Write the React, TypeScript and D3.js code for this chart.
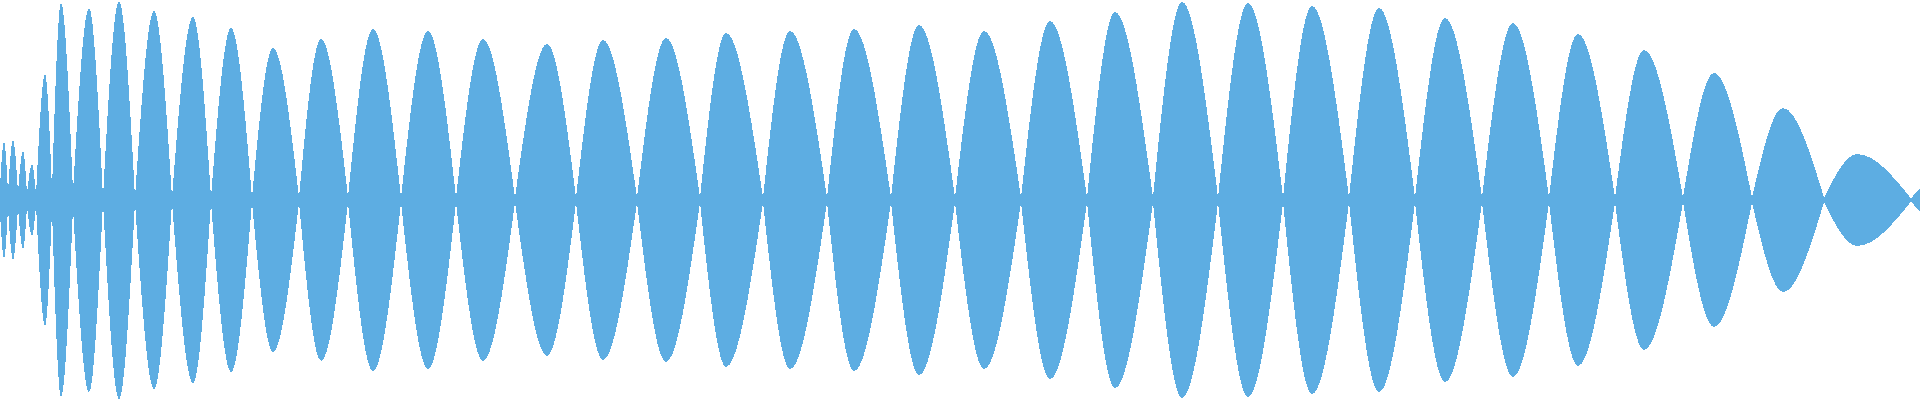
import React from "react";
import * as d3 from "d3";

// Waveform envelope: zero-crossing times (s) and their residual amplitude
const crossTimes = [
  0, 0.02, 0.045, 0.0675, 0.09, 0.13, 0.1825, 0.2575, 0.3375, 0.43, 0.5275,
  0.63, 0.7475, 0.87, 1.0025, 1.14, 1.2875, 1.44, 1.5925, 1.75, 1.9075,
  2.0675, 2.2275, 2.3875, 2.5525, 2.7175, 2.8825, 3.045, 3.2075, 3.3725,
  3.5375, 3.705, 3.8725, 4.0375, 4.2075, 4.38, 4.56, 4.7775,
];
const crossAmps = [
  0.065, 0.04, 0.04, 0.03, 0.025, 0.05, 0.04, 0.012, 0.012, 0.012, 0.012,
  0.012, 0.012, 0.012, 0.012, 0.012, 0.012, 0.012, 0.012, 0.012, 0.012,
  0.012, 0.012, 0.012, 0.012, 0.012, 0.012, 0.012, 0.012, 0.012, 0.012,
  0.012, 0.012, 0.012, 0.012, 0.012, 0.012, 0.008,
];
// Peak time (s) and peak amplitude of each lobe
const peakTimes = [
  0.01, 0.0325, 0.0575, 0.08, 0.1125, 0.1525, 0.2225, 0.2975, 0.385, 0.4825,
  0.5775, 0.6825, 0.8025, 0.9325, 1.07, 1.2075, 1.3675, 1.5075, 1.665, 1.815,
  1.975, 2.135, 2.2975, 2.46, 2.625, 2.7875, 2.955, 3.12, 3.28, 3.4475,
  3.6125, 3.7825, 3.945, 4.11, 4.285, 4.4575, 4.6425, 4.8,
];
const peakAmps = [
  0.29, 0.3, 0.245, 0.18, 0.63, 0.985, 0.96, 0.995, 0.945, 0.915, 0.86, 0.76,
  0.805, 0.855, 0.845, 0.805, 0.78, 0.8, 0.81, 0.835, 0.845, 0.855, 0.875,
  0.845, 0.895, 0.94, 0.99, 0.985, 0.97, 0.96, 0.91, 0.885, 0.83, 0.75, 0.635,
  0.46, 0.23, 0.06,
];

const W = 1920;
const H = 400;
const COLOR = "#5DADE2";

export default function App() {
  const x = d3.scaleLinear().domain([0, 4.8]).range([0, W]);
  const y = d3.scaleLinear().domain([-1, 1]).range([H, 0]);

  const area = d3
    .area<[number, number]>()
    .x((d) => x(d[0]))
    .y0((d) => y(-d[1]))
    .y1((d) => y(d[1]))
    .curve(d3.curveMonotoneX);

  const lobes = peakTimes.map((pt, i) => {
    const pts: [number, number][] = [
      [crossTimes[i], crossAmps[i]],
      [pt, peakAmps[i]],
    ];
    if (i + 1 < crossTimes.length) pts.push([crossTimes[i + 1], crossAmps[i + 1]]);
    return pts;
  });

  return (
    <svg
      width={W}
      height={H}
      style={{ position: "absolute", left: 0, top: 0, display: "block" }}
    >
      <rect width={W} height={H} fill="#ffffff" />
      <g shapeRendering="crispEdges">
        {lobes.map((pts, i) => (
          <path key={i} d={area(pts) || ""} fill={COLOR} stroke="none" />
        ))}
      </g>
    </svg>
  );
}
